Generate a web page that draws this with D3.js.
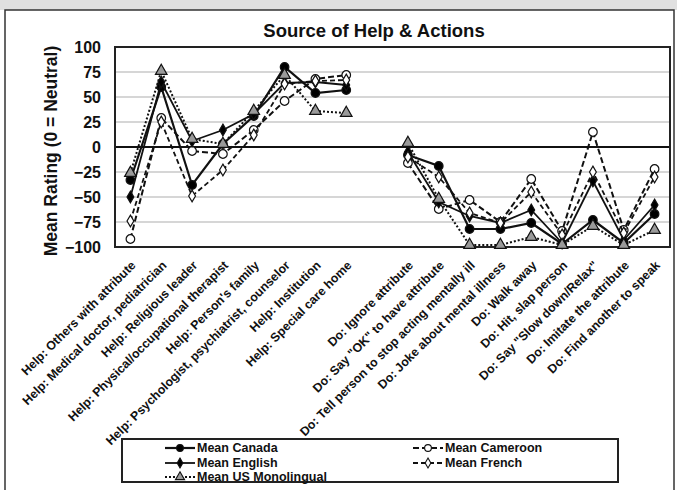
<!DOCTYPE html>
<html>
<head>
<meta charset="utf-8">
<script src="https://cdn.jsdelivr.net/npm/d3@7"></script>
<style>
  html, body { margin: 0; padding: 0; background: #fff; }
  svg { display: block; font-family: "Liberation Sans", Arial, sans-serif; }
</style>
</head>
<body>
<svg id="chart" width="677" height="490"></svg>
<script>
// Categories (an empty slot separates the "Help" and "Do" groups)
const categories = [
  "Help: Others with attribute",
  "Help: Medical doctor, pediatrician",
  "Help: Religious leader",
  "Help: Physical/occupational therapist",
  "Help: Person's family",
  "Help: Psychologist, psychiatrist, counselor",
  "Help: Institution",
  "Help: Special care home",
  "",
  "Do: Ignore attribute",
  "Do: Say \"OK\" to have attribute",
  "Do: Tell person to stop acting mentally ill",
  "Do: Joke about mental illness",
  "Do: Walk away",
  "Do: Hit, slap person",
  "Do: Say \"Slow down/Relax\"",
  "Do: Imitate the attribute",
  "Do: Find another to speak"
];

// Mean ratings per group (null = no value in the spacer slot)
const meanCanada   = [-33, 60, -38, 3, 31, 80, 54, 57, null, -8, -19, -82, -82, -76, -97, -73, -96, -67];
const meanCameroon = [-92, 29, -4, -7, 17, 46, 68, 72, null, -16, -62, -53, -75, -32, -84, 15, -83, -22];
const meanEnglish  = [-50, 65, 6, 17, 33, 64, 65, 62, null, -5, -55, -69, -76, -63, -96, -34, -93, -58];
const meanFrench   = [-74, 25, -49, -23, 12, 63, 66, 67, null, -10, -30, -66, -76, -45, -88, -25, -86, -30];
const meanUSMono   = [-26, 76, 8, 3, 36, 72, 36, 34, null, 4, -52, -98, -98, -90, -98, -79, -98, -83];

const yTicks = [100, 75, 50, 25, 0, -25, -50, -75, -100];

const series = [
  { name: "Mean Canada",        values: meanCanada,   marker: "circle",   fill: "#000", dash: null,  width: 2.2 },
  { name: "Mean Cameroon",      values: meanCameroon, marker: "circle",   fill: "#fff", dash: "6,3", width: 2 },
  { name: "Mean English",       values: meanEnglish,  marker: "diamond",  fill: "#000", dash: null,  width: 1.8 },
  { name: "Mean French",        values: meanFrench,   marker: "diamond",  fill: "#fff", dash: "5,3", width: 1.8 },
  { name: "Mean US Monolingual",values: meanUSMono,   marker: "triangle", fill: "#9a9a9a", dash: "2,2", width: 2 }
];

const svg = d3.select("#chart");
const W = 677, H = 490;
const plot = { left: 115, right: 670, top: 47, bottom: 247 };

// Outer frame with grey header strip
svg.append("rect").attr("x", 0).attr("y", 0).attr("width", W).attr("height", 10).attr("fill", "#e0e0e0");
svg.append("rect").attr("x", 5).attr("y", 10).attr("width", W - 8).attr("height", H)
  .attr("fill", "#fff").attr("stroke", "#333").attr("stroke-width", 1.5);

const x = d3.scaleBand().domain(d3.range(categories.length))
  .range([plot.left, plot.right]).paddingInner(0).paddingOuter(0);
const cx = i => x(i) + x.bandwidth() / 2;
const y = d3.scaleLinear().domain([-100, 100]).range([plot.bottom, plot.top]);

// Title
svg.append("text").attr("x", 374).attr("y", 37).attr("text-anchor", "middle")
  .attr("font-size", 18.5).attr("font-weight", "bold").attr("fill", "#111")
  .text("Source of Help & Actions");

// Gridlines
svg.append("g").selectAll("line").data(yTicks.filter(t => t !== 0 && t !== 100 && t !== -100))
  .join("line")
  .attr("x1", plot.left).attr("x2", plot.right)
  .attr("y1", d => y(d)).attr("y2", d => y(d))
  .attr("stroke", "#c8c8c8").attr("stroke-width", 1.5);

// Y axis labels
const yAxis = d3.axisLeft(y).tickValues(yTicks).tickSize(0).tickPadding(14);
const gy = svg.append("g").attr("transform", `translate(${plot.left},0)`).call(yAxis);
gy.select(".domain").remove();
gy.selectAll("text").attr("font-size", 16).attr("font-weight", "bold").attr("fill", "#111")
  .attr("font-family", "'Liberation Sans', Arial, sans-serif");

// Y axis title
svg.append("text")
  .attr("transform", `translate(57,${(plot.top + plot.bottom) / 2 + 4}) rotate(-90)`)
  .attr("text-anchor", "middle").attr("font-size", 17.5).attr("font-weight", "bold").attr("fill", "#111")
  .text("Mean Rating (0 = Neutral)");

// Zero line
svg.append("line").attr("x1", plot.left).attr("x2", plot.right)
  .attr("y1", y(0)).attr("y2", y(0)).attr("stroke", "#111").attr("stroke-width", 2);

// Plot border
svg.append("rect").attr("x", plot.left).attr("y", plot.top)
  .attr("width", plot.right - plot.left).attr("height", plot.bottom - plot.top)
  .attr("fill", "none").attr("stroke", "#222").attr("stroke-width", 2);

// X axis category labels, slanted
const xAxis = d3.axisBottom(x).tickFormat(i => categories[i]).tickSize(0).tickPadding(0);
const gx = svg.append("g").attr("transform", `translate(0,${plot.bottom})`).call(xAxis);
gx.select(".domain").remove();
gx.selectAll("text")
  .attr("font-size", 12.4).attr("font-weight", "bold").attr("fill", "#111")
  .attr("font-family", "'Liberation Sans', Arial, sans-serif")
  .attr("text-anchor", "end")
  .attr("dy", "0.35em")
  .attr("transform", "translate(3,16) rotate(-45)");

// Marker symbols
const symbolFor = {
  circle: d3.symbol().type(d3.symbolCircle).size(58),
  diamond: d3.symbol().type(d3.symbolDiamond).size(40),
  triangle: d3.symbol().type(d3.symbolTriangle).size(58)
};

const line = d3.line()
  .defined(d => d.v !== null)
  .x(d => cx(d.i)).y(d => y(d.v));

series.forEach(s => {
  const pts = s.values.map((v, i) => ({ i, v }));
  const g = svg.append("g");
  g.append("path").datum(pts)
    .attr("d", line).attr("fill", "none")
    .attr("stroke", "#111").attr("stroke-width", s.width)
    .attr("stroke-dasharray", s.dash);
  g.selectAll("path.mk").data(pts.filter(d => d.v !== null)).join("path")
    .attr("class", "mk")
    .attr("transform", d => `translate(${cx(d.i)},${y(d.v)})`)
    .attr("d", symbolFor[s.marker]())
    .attr("fill", s.fill).attr("stroke", "#111").attr("stroke-width", 1.2);
});

// Legend
const legend = svg.append("g");
legend.append("rect").attr("x", 122).attr("y", 439).attr("width", 496).attr("height", 43)
  .attr("fill", "#fff").attr("stroke", "#222").attr("stroke-width", 2);
const legendPos = [
  { s: series[0], x: 165, y: 448 },
  { s: series[1], x: 413, y: 448 },
  { s: series[2], x: 165, y: 463 },
  { s: series[3], x: 413, y: 463 },
  { s: series[4], x: 165, y: 477 }
];
const legendSymbol = {
  circle: d3.symbol().type(d3.symbolCircle).size(36),
  diamond: d3.symbol().type(d3.symbolDiamond).size(28),
  triangle: d3.symbol().type(d3.symbolTriangle).size(36)
};
legendPos.forEach(p => {
  const s = p.s;
  legend.append("line").attr("x1", p.x).attr("x2", p.x + 30)
    .attr("y1", p.y).attr("y2", p.y)
    .attr("stroke", "#111").attr("stroke-width", s.width).attr("stroke-dasharray", s.dash);
  legend.append("path").attr("transform", `translate(${p.x + 15},${p.y})`)
    .attr("d", legendSymbol[s.marker]())
    .attr("fill", s.fill).attr("stroke", "#111").attr("stroke-width", 1.1);
  legend.append("text").attr("x", p.x + 32).attr("y", p.y).attr("dy", "0.35em")
    .attr("font-size", 12.5).attr("font-weight", "bold").attr("fill", "#111")
    .text(s.name);
});
</script>
</body>
</html>
